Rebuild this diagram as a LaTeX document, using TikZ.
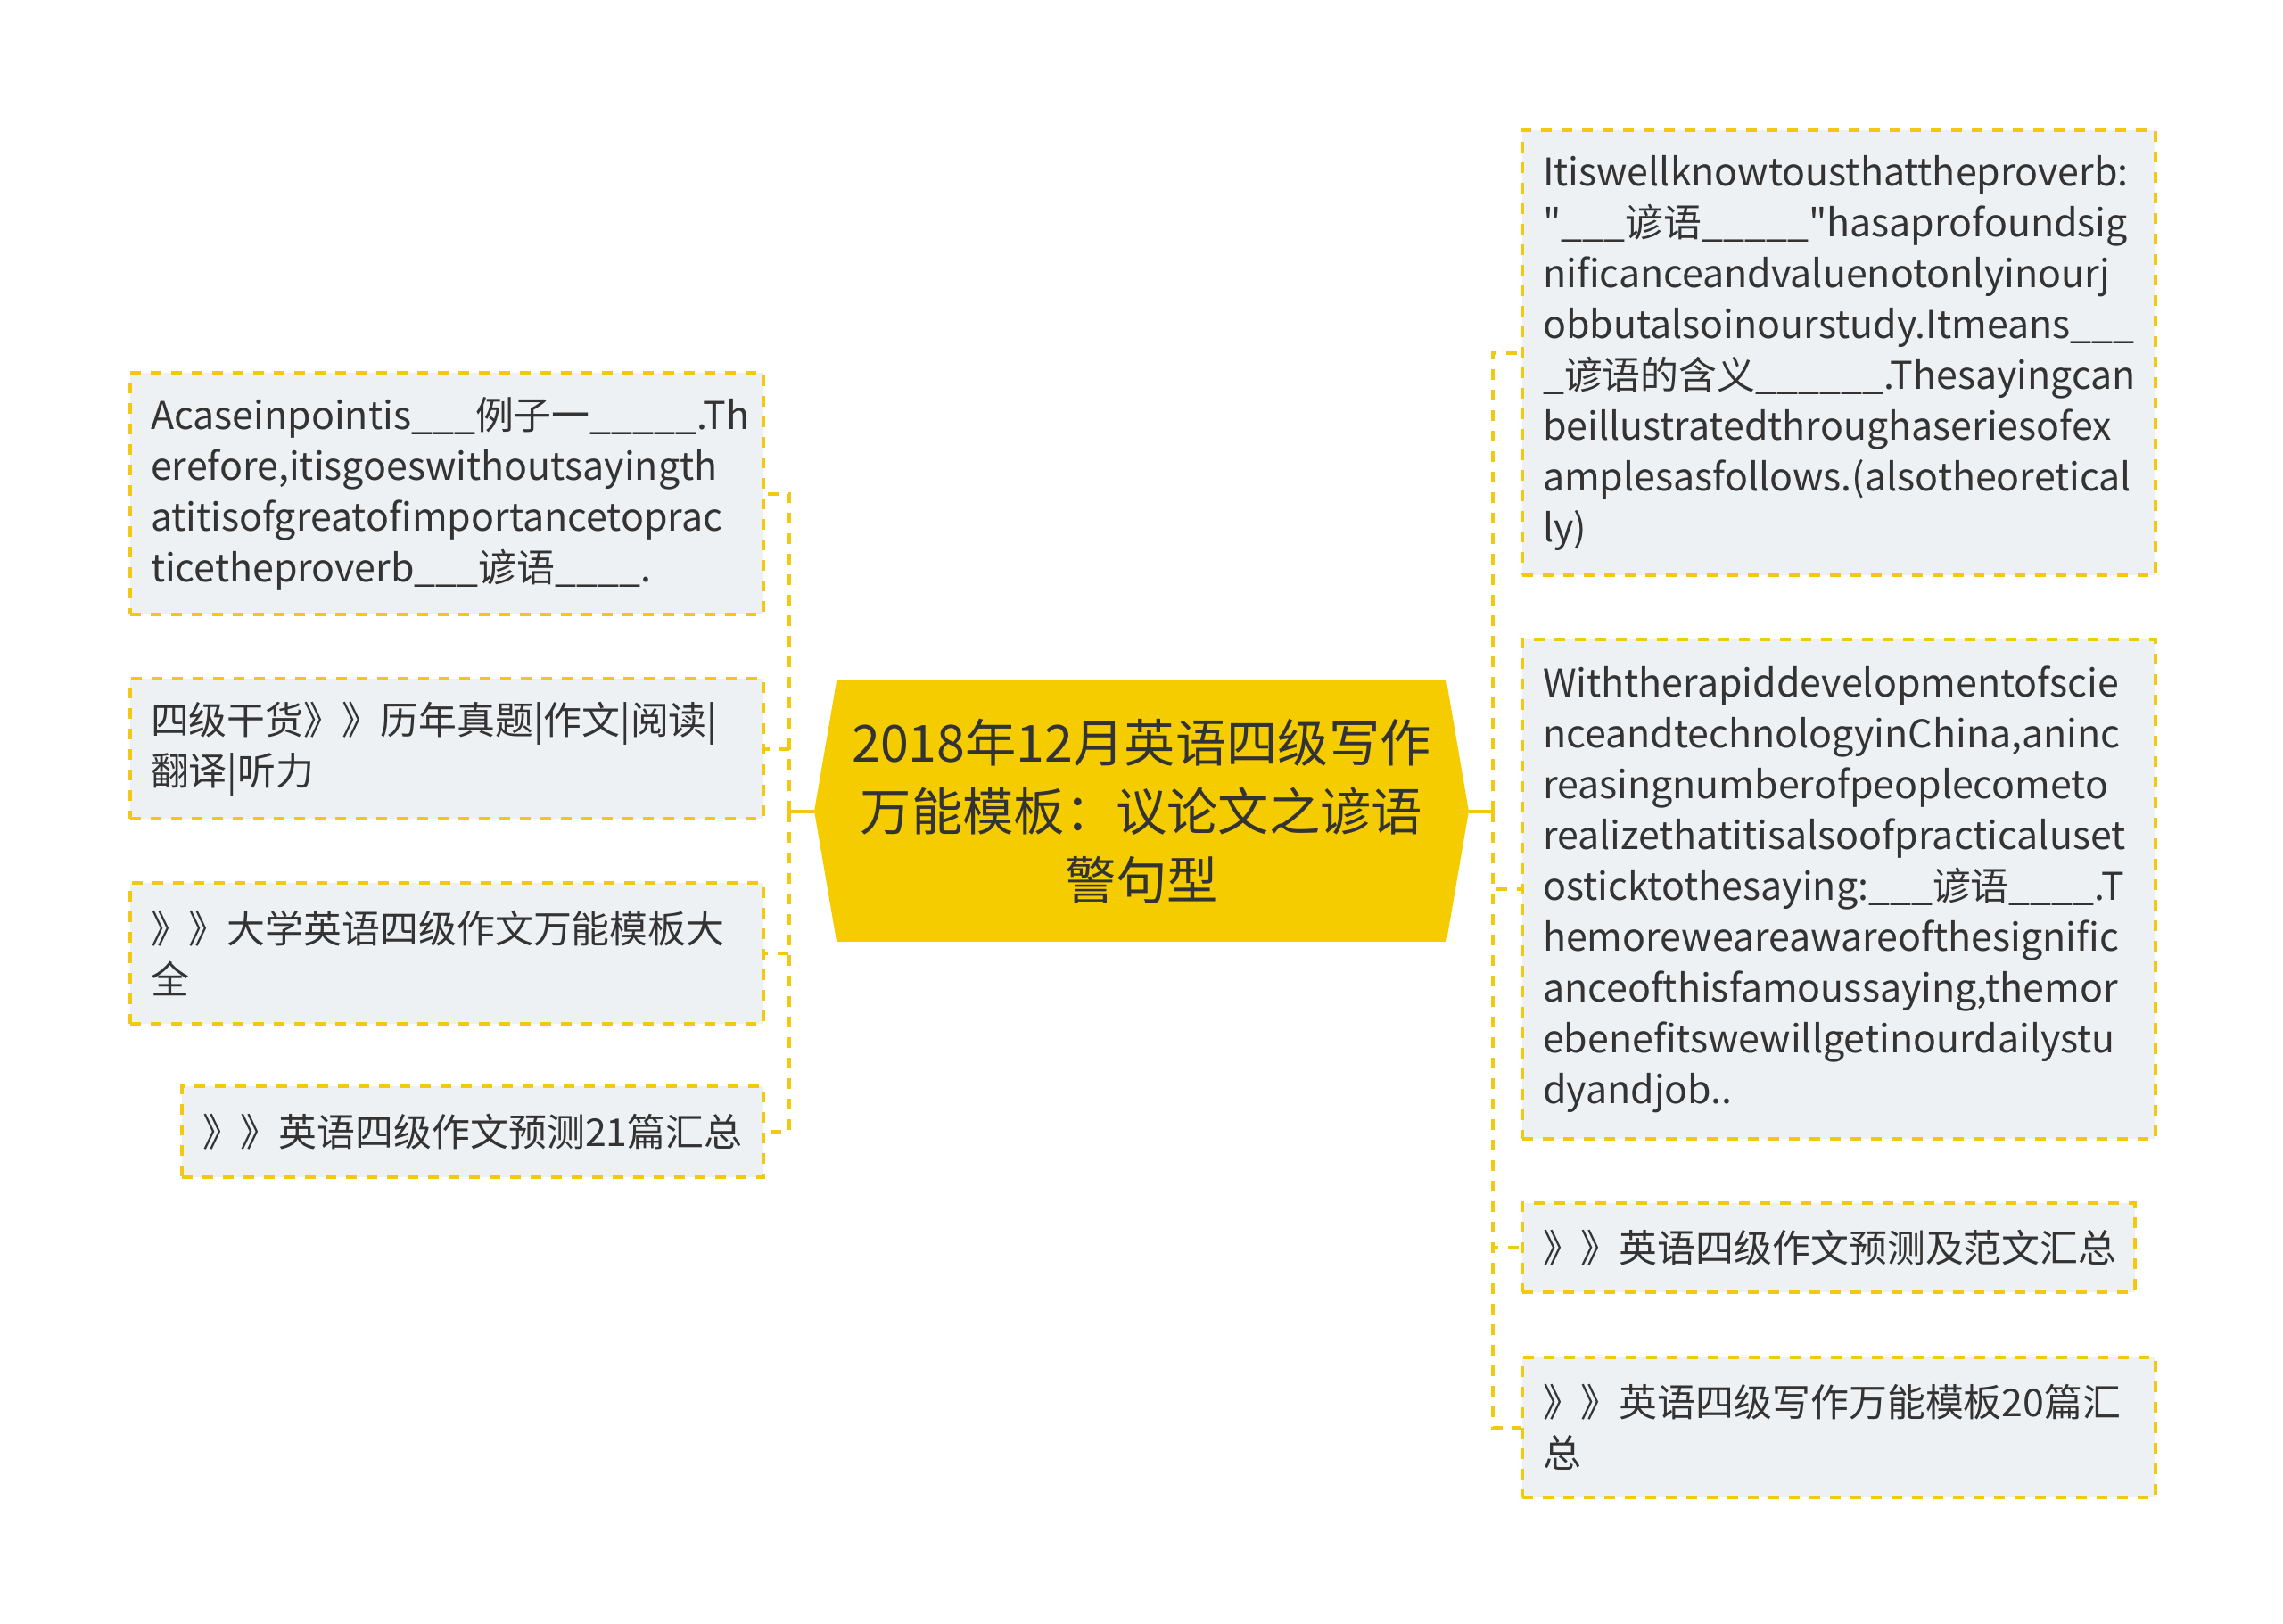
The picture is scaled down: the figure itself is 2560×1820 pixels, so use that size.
\documentclass[tikz,border=0pt]{standalone}
\usepackage{fontspec}
\setmainfont{Noto Sans CJK SC}[Ligatures=TeXOff]
\usetikzlibrary{backgrounds}
\definecolor{lineyellow}{HTML}{F2C811}
\definecolor{rootyellow}{HTML}{F5CC00}
\definecolor{boxgray}{HTML}{EEF1F4}
\definecolor{txtgray}{HTML}{333333}
\begin{document}
\begin{tikzpicture}[x=0.01cm, y=-0.01cm,
  topic/.style={draw=lineyellow, fill=boxgray, line width=0.4mm, dash pattern=on 1.2mm off 1.1mm,
    anchor=north west, align=left, inner xsep=0.23cm, inner ysep=0pt, text=txtgray,
    font={\fontsize{12.2pt}{16.2pt}\selectfont}},
  root/.style={minimum width=6.82cm, minimum height=2.91cm, inner sep=0pt, align=center,
    text=txtgray, font={\fontsize{16.3pt}{21.9pt}\selectfont}},
  link/.style={draw=lineyellow, line width=0.4mm},
  branch/.style={link, dash pattern=on 1.2mm off 1.1mm}]
\useasboundingbox (0,0) rectangle (2560,1820);

\node[root] (root) at (1280,909.5) {2018年12月英语四级写作\\万能模板：议论文之谚语\\警句型};
\coordinate (rootw) at ([xshift=-0.25cm]root.west);
\coordinate (roote) at ([xshift=0.25cm]root.east);
\begin{scope}[on background layer]
\fill[rootyellow] (root.north west) -- (root.north east) -- (roote) -- (root.south east)
  -- (root.south west) -- (rootw) -- cycle;
\end{scope}

\node[topic, text width=6.64cm, minimum height=2.71cm] (l1) at (144,416)
  {Acaseinpointis\_\_\_例子一\_\_\_\_\_.Th\\erefore,itisgoeswithoutsayingth\\atitisofgreatofimportancetoprac\\ticetheproverb\_\_\_谚语\_\_\_\_.};
\node[topic, text width=6.64cm, minimum height=1.57cm] (l2) at (144,759)
  {四级干货》》历年真题|作文|阅读|\\翻译|听力};
\node[topic, text width=6.64cm, minimum height=1.58cm] (l3) at (144,988)
  {》》大学英语四级作文万能模板大\\全};
\node[topic, text width=6.06cm, minimum height=1.02cm] (l4) at (202,1216)
  {》》英语四级作文预测21篇汇总};

\node[topic, text width=6.64cm, minimum height=4.99cm] (r1) at (1705,144)
  {Itiswellknowtousthattheproverb:\\"\_\_\_谚语\_\_\_\_\_"hasaprofoundsig\\nificanceandvaluenotonlyinourj\\obbutalsoinourstudy.Itmeans\_\_\_\\\_谚语的含义\_\_\_\_\_\_.Thesayingcan\\beillustratedthroughaseriesofex\\amplesasfollows.(alsotheoretical\\ly)};
\node[topic, text width=6.64cm, minimum height=5.60cm] (r2) at (1705,715)
  {Withtherapiddevelopmentofscie\\nceandtechnologyinChina,aninc\\reasingnumberofpeoplecometo\\realizethatitisalsoofpracticaluset\\osticktothesaying:\_\_\_谚语\_\_\_\_.T\\hemoreweareawareofthesignific\\anceofthisfamoussaying,themor\\ebenefitswewillgetinourdailystu\\dyandjob..};
\node[topic, text width=6.41cm, minimum height=1.00cm] (r3) at (1705,1347)
  {》》英语四级作文预测及范文汇总};
\node[topic, text width=6.64cm, minimum height=1.57cm] (r4) at (1705,1520)
  {》》英语四级写作万能模板20篇汇\\总};

\coordinate (lj) at ([xshift=-0.28cm]rootw);
\coordinate (rj) at ([xshift=0.27cm]roote);
\draw[link] (rootw) -- (lj);
\draw[link] (roote) -- (rj);
\foreach \n in {l1,l2,l3,l4}
  \draw[branch] (lj) |- (\n.east);
\foreach \n in {r1,r2,r3,r4}
  \draw[branch] (rj) |- (\n.west);
\end{tikzpicture}
\end{document}
